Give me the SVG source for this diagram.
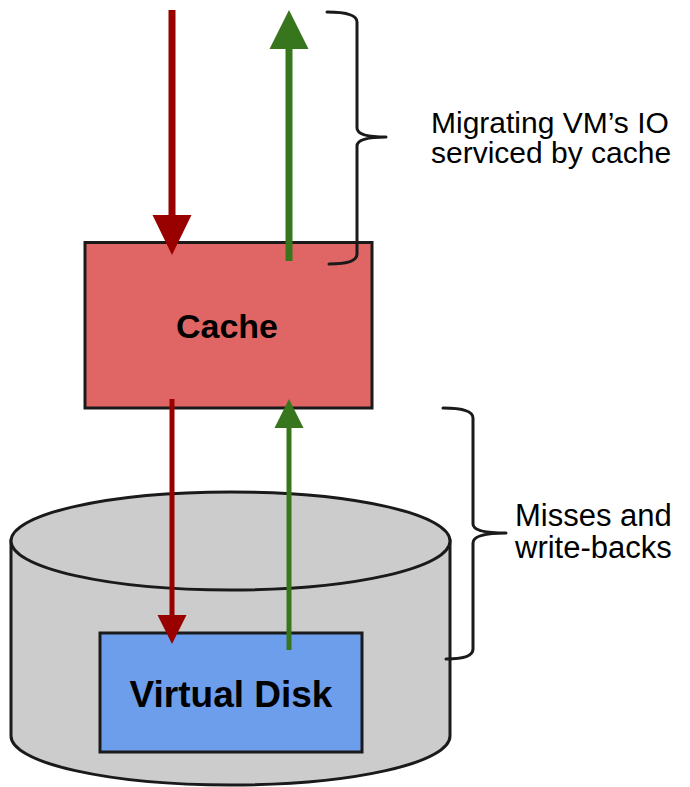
<svg xmlns="http://www.w3.org/2000/svg" width="690" height="787" viewBox="0 0 690 787">
  <style>
    .outline { stroke: #1a1a1a; stroke-width: 3; }
    .brace { fill: none; stroke: #1a1a1a; stroke-width: 3; stroke-linecap: round; stroke-linejoin: round; }
    .title { font-family: "Liberation Sans", Arial, sans-serif; font-weight: bold; fill: #000; text-anchor: middle; }
    .note { font-family: "Liberation Sans", Arial, sans-serif; fill: #000; }
    .down { fill: #990000; }
    .up { fill: #38761d; }
  </style>
  <rect width="690" height="787" fill="#ffffff"/>

  <!-- storage cylinder holding the virtual disk -->
  <g id="storage">
    <path class="outline" fill="#cccccc" d="M11,541 L11,736 A219.5,49 0 0 0 450,736 L450,541 Z"/>
    <ellipse class="outline" fill="#cccccc" cx="230.5" cy="541" rx="219.5" ry="49"/>
  </g>

  <g id="virtual-disk">
    <rect class="outline" fill="#6d9eeb" x="100" y="633" width="262" height="119"/>
    <text class="title" x="231" y="707" font-size="37">Virtual Disk</text>
  </g>

  <g id="cache">
    <rect class="outline" fill="#e06666" x="85" y="242.5" width="287" height="165.5"/>
    <text class="title" x="227" y="338" font-size="34">Cache</text>
  </g>

  <!-- IO flows -->
  <g id="connectors">
    <!-- upper: requests into the cache and replies out -->
    <rect class="down" x="168.5" y="10" width="7" height="208"/>
    <polygon class="down" points="152.5,215 191.5,215 172,255"/>
    <rect class="up" x="285.5" y="46" width="7" height="215"/>
    <polygon class="up" points="269.5,49 308.5,49 289,10"/>
    <!-- lower: misses and write-backs to the disk -->
    <rect class="down" x="169.5" y="399" width="5" height="219"/>
    <polygon class="down" points="157.5,615 186.5,615 172,644"/>
    <rect class="up" x="286.5" y="426" width="5" height="224"/>
    <polygon class="up" points="274.5,428 303.5,428 289,399"/>
  </g>

  <g id="label-cache-io">
    <path class="brace" d="M327,12 Q357,12 357,22 L357,128 Q357,137 386,137 Q357,137 357,146 L357,254 Q357,264 329,264"/>
    <text class="note" x="431" y="133" font-size="30">Migrating VM’s IO</text>
    <text class="note" x="431" y="163" font-size="30">serviced by cache</text>
  </g>

  <g id="label-misses">
    <path class="brace" d="M443,408 Q473,408 473,418 L473,524 Q473,533 506,533 Q473,533 473,543 L473,649 Q473,659 446,659"/>
    <text class="note" x="515" y="526" font-size="31">Misses and</text>
    <text class="note" x="515" y="558" font-size="31">write-backs</text>
  </g>
</svg>
